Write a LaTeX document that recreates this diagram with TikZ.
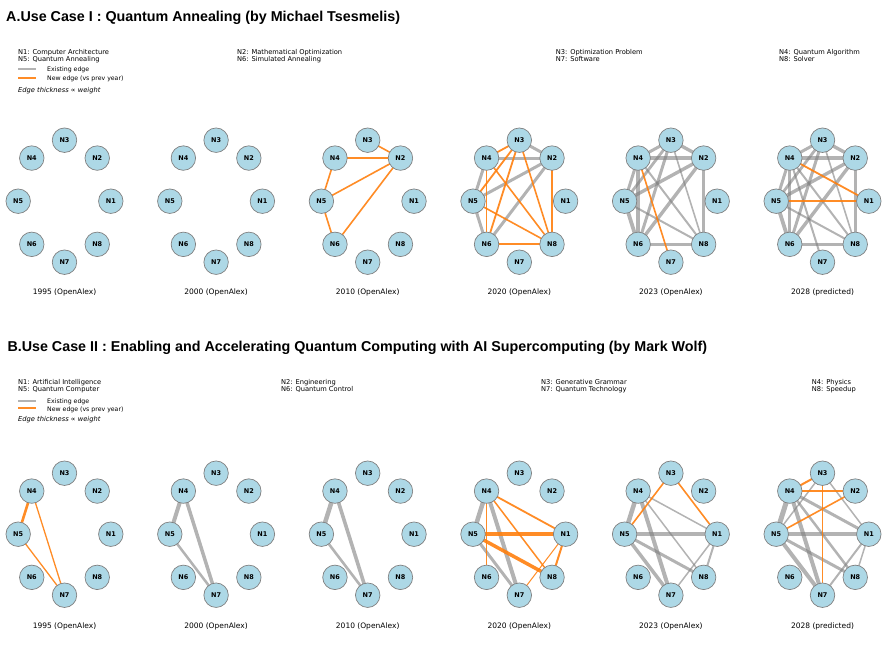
\documentclass[tikz,border=0pt]{standalone}
\usepackage{fontspec}
\setmainfont{DejaVu Sans}
\newfontfamily\headfont{Liberation Sans}
\usetikzlibrary{backgrounds}
\definecolor{nodeblue}{RGB}{173,216,230}
\definecolor{rimgray}{RGB}{128,128,128}
\definecolor{edgegray}{RGB}{128,128,128}
\definecolor{neworange}{RGB}{255,127,14}

% eight concept nodes on an ellipse: panel, centre x, centre y
\newcommand{\graphring}[3]{%
  \foreach \k in {1,...,8}
    \node[kw] (#1-\k) at ({#2+46.3*cos((\k-1)*45)},{#3-61*sin((\k-1)*45)}) {N\k};}
% edges under the nodes: style, panel, list of from/to/width
\newcommand{\edgeset}[3]{%
  \begin{scope}[on background layer]
    \foreach \i/\j/\w in {#3}
      \draw[#1, line width=\w pt] (#2-\i.center) -- (#2-\j.center);
  \end{scope}}

\begin{document}
\begin{tikzpicture}[
  x=1pt, y=-1pt,
  kw/.style={circle, draw=rimgray, line width=0.7pt, fill=nodeblue,
             minimum size=24.5pt, inner sep=0pt,
             font=\fontsize{6.5}{7}\selectfont\bfseries},
  oldedge/.style={draw=edgegray, draw opacity=0.6},
  newedge/.style={draw=neworange, draw opacity=0.9},
  ttl/.style={anchor=base west, inner sep=0pt,
              font=\headfont\fontsize{14.3}{16}\selectfont\bfseries},
  leg/.style={anchor=base west, inner sep=0pt, font=\fontsize{6.7}{7.5}\selectfont},
  key/.style={leg, font=\fontsize{6.2}{7}\selectfont},
  note/.style={leg, font=\fontsize{6.7}{7.5}\selectfont\itshape},
  yr/.style={anchor=base, inner sep=0pt, font=\fontsize{7.5}{9}\selectfont},
  sample/.style={line width=1.7pt},
]
  \useasboundingbox (0,0) rectangle (888,664);

  \node[ttl] (ttlA) at (6,21) {A.Use Case I : Quantum Annealing (by Michael Tsesmelis)};
  \node[ttl] (ttlB) at (7.3,351) {B.Use Case II : Enabling and Accelerating Quantum Computing with AI Supercomputing (by Mark Wolf)};

  % key, case A
  \node[leg] (a-l1) at (18,54.3) {N1: Computer Architecture};
  \node[leg] (a-l5) at (18,61.8) {N5: Quantum Annealing};
  \node[leg] (a-l2) at (237,54.3) {N2: Mathematical Optimization};
  \node[leg] (a-l6) at (237,61.8) {N6: Simulated Annealing};
  \node[leg] (a-l3) at (555.7,54.3) {N3: Optimization Problem};
  \node[leg] (a-l7) at (555.7,61.8) {N7: Software};
  \node[leg] (a-l4) at (779,54.3) {N4: Quantum Algorithm};
  \node[leg] (a-l8) at (779,61.8) {N8: Solver};
  \coordinate (a-ko) at (18,69.3);
  \coordinate (a-kn) at (18,77.7);
  \draw[oldedge, sample] (a-ko) -- +(18,0);
  \draw[newedge, sample] (a-kn) -- +(18,0);
  \node[key] (a-kot) at (47,71.6) {Existing edge};
  \node[key] (a-knt) at (47,80) {New edge (vs prev year)};
  \node[note] (a-kw) at (18,92.3) {Edge thickness ∝ weight};

  % key, case B
  \node[leg] (b-l1) at (18,384) {N1: Artificial Intelligence};
  \node[leg] (b-l5) at (18,391.5) {N5: Quantum Computer};
  \node[leg] (b-l2) at (281,384) {N2: Engineering};
  \node[leg] (b-l6) at (281,391.5) {N6: Quantum Control};
  \node[leg] (b-l3) at (541,384) {N3: Generative Grammar};
  \node[leg] (b-l7) at (541,391.5) {N7: Quantum Technology};
  \node[leg] (b-l4) at (811.7,384) {N4: Physics};
  \node[leg] (b-l8) at (811.7,391.5) {N8: Speedup};
  \coordinate (b-ko) at (18,401);
  \coordinate (b-kn) at (18,408);
  \draw[oldedge, sample] (b-ko) -- +(18,0);
  \draw[newedge, sample] (b-kn) -- +(18,0);
  \node[key] (b-kot) at (47,403.2) {Existing edge};
  \node[key] (b-knt) at (47,411) {New edge (vs prev year)};
  \node[note] (b-kw) at (18,421.6) {Edge thickness ∝ weight};

  % panels
  \foreach \p/\cx/\yr in {1/64.5/1995 (OpenAlex), 2/216.1/2000 (OpenAlex),
      3/367.7/2010 (OpenAlex), 4/519.3/2020 (OpenAlex),
      5/670.9/2023 (OpenAlex), 6/822.5/2028 (predicted)} {
    \graphring{a\p}{\cx}{201.2}
    \node[yr] (a\p-yr) at (\cx,294.5) {\yr};
    \graphring{b\p}{\cx}{534.2}
    \node[yr] (b\p-yr) at (\cx,628.7) {\yr};
  }

  % case A edges
  \edgeset{newedge}{a3}{3/2/1.6, 4/2/1.6, 4/5/1.6, 5/2/1.6, 5/6/1.6, 6/2/1.6}
  \edgeset{oldedge}{a4}{3/2/3, 4/2/3, 4/5/3, 5/2/3, 5/6/3, 6/2/3}
  \edgeset{newedge}{a4}{4/3/1.8, 3/5/1.8, 3/6/1.8, 3/8/1.6, 4/6/1.8, 4/8/1.6, 5/8/1.6, 6/8/1.8, 2/8/1.8}
  \edgeset{oldedge}{a5}{3/2/3.4, 4/2/3.4, 4/3/3, 4/5/3, 4/6/3.4, 5/6/3.8, 5/2/3.4, 6/2/3.4,
      3/5/2.8, 3/6/3, 3/8/1.6, 4/8/2, 5/8/2, 6/8/2.4, 2/8/2.6}
  \edgeset{newedge}{a5}{4/7/1.6}
  \edgeset{oldedge}{a6}{3/2/3.4, 4/2/3.4, 4/3/3, 4/5/3, 4/6/3.4, 5/6/3.8, 5/2/3.4, 6/2/3.4,
      3/5/2.8, 3/6/3, 3/8/1.6, 4/8/2, 5/8/2, 6/8/2.4, 2/8/2.6, 4/7/2}
  \edgeset{newedge}{a6}{4/1/1.8, 5/1/1.5}

  % case B edges
  \edgeset{newedge}{b1}{4/5/2.6, 4/7/1.3, 5/7/1.3}
  \edgeset{oldedge}{b2}{4/5/4, 4/7/3.5, 5/7/2.5}
  \edgeset{oldedge}{b3}{4/5/4.5, 4/7/3.6, 5/7/2.6}
  \edgeset{oldedge}{b4}{4/5/4.5, 4/7/4, 5/7/3}
  \edgeset{newedge}{b4}{4/1/1.8, 4/6/1, 4/8/1.5, 5/1/4, 5/8/3.5, 1/8/2, 1/7/1}
  \edgeset{oldedge}{b5}{4/5/4.5, 4/7/4, 5/7/3.5, 4/1/1.5, 4/8/1.5, 5/1/4, 5/8/3, 1/8/2, 1/7/1.5}
  \edgeset{newedge}{b5}{3/5/1.6, 3/1/1.6}
  \edgeset{oldedge}{b6}{4/5/5, 4/7/4, 5/7/4, 4/1/3, 4/8/2.5, 5/1/4, 5/8/3, 1/8/1.5, 1/7/2,
      3/5/1.5, 3/1/1.5}
  \edgeset{newedge}{b6}{4/3/2, 4/2/1.6, 5/2/1.6, 3/7/1.3}
\end{tikzpicture}
\end{document}
